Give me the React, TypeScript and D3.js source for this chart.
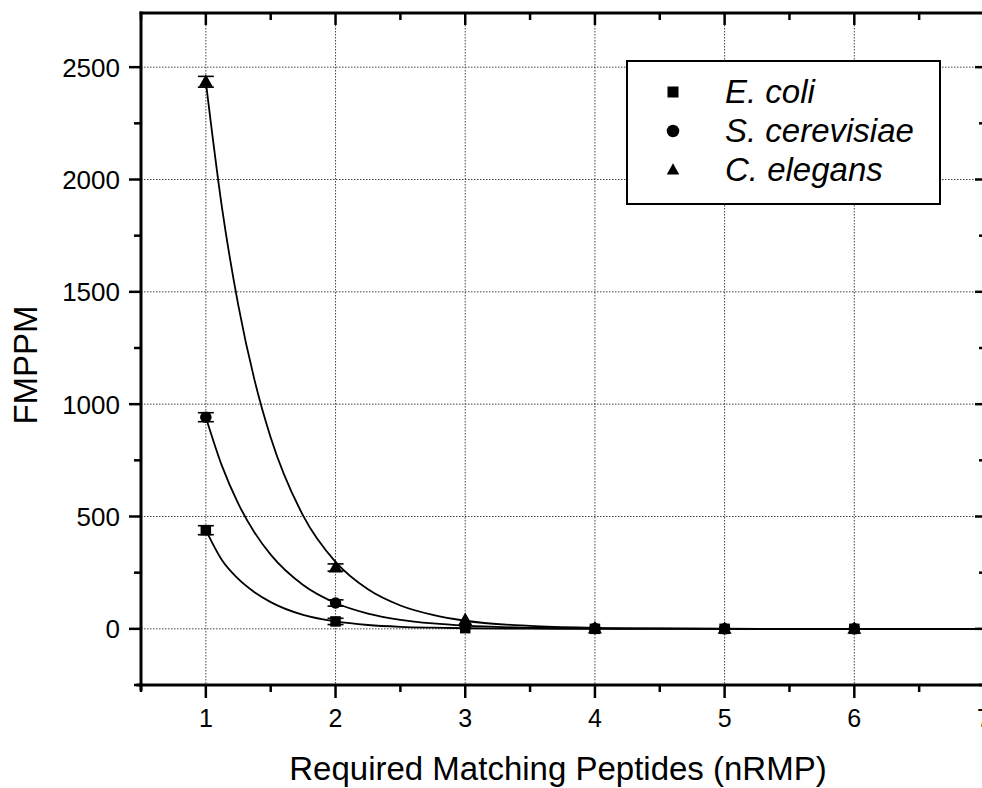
import React from "react";
import * as d3 from "d3";

// ---- data ----
const nRMP = [1, 2, 3, 4, 5, 6];
const ecoli = [439, 33, 3, 0, 0, 0];
const scerevisiae = [942, 115, 12, 1, 0, 0];
const celegans = [2435, 273, 39, 2, 0, 0];
const ecoliErr = [20, 14, 0, 0, 0, 0];
const scerevisiaeErr = [20, 14, 0, 0, 0, 0];
const celegansErr = [24, 16, 0, 0, 0, 0];

// fitted decay curves
const fitX = [1, 1.125, 1.25, 1.375, 1.5, 1.75, 2, 2.25, 2.5, 2.75, 3, 3.5, 4, 4.5, 5, 5.5, 6, 6.5, 7];
const ecoliFit = [439, 305, 222, 163, 119, 62, 33, 17, 9, 5, 2.5, 0.7, 0, 0, 0, 0, 0, 0, 0];
const scerevisiaeFit = [942, 724, 557, 429, 330, 195, 115, 68, 40, 24, 14, 5, 2, 1, 0, 0, 0, 0, 0];
const celegansFit = [2435, 1873, 1441, 1108, 852, 504, 298, 176, 104, 62, 36, 13, 4.5, 1.6, 0.5, 0, 0, 0, 0];

const xMajor = [1, 2, 3, 4, 5, 6, 7];
const xMinor = [0.5, 1.5, 2.5, 3.5, 4.5, 5.5, 6.5];
const yMajor = [0, 500, 1000, 1500, 2000, 2500];
const yMinor = [-250, 250, 750, 1250, 1750, 2250];

const seriesNames = ["E. coli", "S. cerevisiae", "C. elegans"];
const xTitle = "Required Matching Peptides (nRMP)";
const yTitle = "FMPPM";

const W = 982;
const H = 788;
const L = 141;
const R = 984;
const T = 13;
const B = 685;
const FONT = "'Liberation Sans', Arial, Helvetica, sans-serif";

type Shape = "square" | "circle" | "triangle";

function Marker({ shape, cx, cy, s }: { shape: Shape; cx: number; cy: number; s: number }) {
  if (shape === "square")
    return <rect x={cx - s / 2} y={cy - s / 2} width={s} height={s} fill="#000" />;
  if (shape === "circle") return <circle cx={cx} cy={cy} r={s / 2} fill="#000" />;
  const h = s * 0.9;
  return (
    <path
      d={`M${cx},${cy - h * 0.6} L${cx + s / 2},${cy + h * 0.4} L${cx - s / 2},${cy + h * 0.4} Z`}
      fill="#000"
    />
  );
}

export default function App() {
  const x = d3.scaleLinear().domain([0.5, 7]).range([L, R]);
  const y = d3.scaleLinear().domain([-250, 2750]).range([B, T - 2]);

  const line = d3
    .line<[number, number]>()
    .x((d) => x(d[0]))
    .y((d) => y(d[1]))
    .curve(d3.curveMonotoneX);

  const series = [
    { name: seriesNames[0], vals: ecoli, err: ecoliErr, fit: ecoliFit, shape: "square" as Shape, size: 10.5 },
    { name: seriesNames[1], vals: scerevisiae, err: scerevisiaeErr, fit: scerevisiaeFit, shape: "circle" as Shape, size: 11.5 },
    { name: seriesNames[2], vals: celegans, err: celegansErr, fit: celegansFit, shape: "triangle" as Shape, size: 14 },
  ];

  const gridStyle = { stroke: "#444", strokeWidth: 1, strokeDasharray: "1.5,1.5" };

  return (
    <svg
      width={W}
      height={H}
      style={{ position: "absolute", left: 0, top: 0, background: "#fff" }}
      fontFamily={FONT}
    >
      <rect x={0} y={0} width={W} height={H} fill="#fff" />
      {/* grid */}
      {xMajor.map((v) => (
        <line key={"gx" + v} x1={x(v)} x2={x(v)} y1={T} y2={B} {...gridStyle} />
      ))}
      {yMajor.map((v) => (
        <line key={"gy" + v} x1={L} x2={R} y1={y(v)} y2={y(v)} {...gridStyle} />
      ))}

      {/* fitted curves */}
      {series.map((s) => (
        <path
          key={"fit" + s.name}
          d={line(fitX.map((v, i) => [v, s.fit[i]] as [number, number])) || ""}
          fill="none"
          stroke="#000"
          strokeWidth={1.8}
        />
      ))}

      {/* points + error bars */}
      {series.map((s) => (
        <g key={"pts" + s.name}>
          {nRMP.map((v, i) => {
            const cx = x(v);
            const cy = y(s.vals[i]);
            const e = s.err[i];
            return (
              <g key={i}>
                {e > 0 && (
                  <g stroke="#000" strokeWidth={1.6}>
                    <line x1={cx} x2={cx} y1={y(s.vals[i] + e)} y2={y(s.vals[i] - e)} />
                    <line x1={cx - 8} x2={cx + 8} y1={y(s.vals[i] + e)} y2={y(s.vals[i] + e)} />
                    <line x1={cx - 8} x2={cx + 8} y1={y(s.vals[i] - e)} y2={y(s.vals[i] - e)} />
                  </g>
                )}
                <Marker shape={s.shape} cx={cx} cy={cy} s={s.size} />
              </g>
            );
          })}
        </g>
      ))}

      {/* legend */}
      <rect x={627} y={61} width={313} height={143} fill="#fff" stroke="#000" strokeWidth={2} />
      {series.map((s, i) => (
        <g key={"leg" + s.name}>
          <Marker shape={s.shape} cx={673} cy={92 + i * 39} s={s.shape === "square" ? 11 : 12.5} />
          <text x={725} y={103 + i * 39} fontSize={33} fontStyle="italic" fill="#000">
            {s.name}
          </text>
        </g>
      ))}

      {/* axes frame */}
      <g stroke="#000" strokeWidth={3} strokeLinecap="square">
        <line x1={L} x2={R} y1={T} y2={T} />
        <line x1={L - 3} x2={R} y1={B} y2={B} />
        <line x1={L} x2={L} y1={T} y2={B + 4} />
        <line x1={R + 1} x2={R + 1} y1={T} y2={B} />
      </g>

      {/* ticks */}
      <g stroke="#000" strokeWidth={2.5}>
        {xMajor.map((v) => (
          <g key={"xt" + v}>
            <line x1={x(v)} x2={x(v)} y1={B} y2={B + 13} />
            <line x1={x(v)} x2={x(v)} y1={T} y2={T + 12} />
          </g>
        ))}
        {xMinor.map((v) => (
          <g key={"xm" + v}>
            <line x1={x(v)} x2={x(v)} y1={B} y2={B + 7} />
            <line x1={x(v)} x2={x(v)} y1={T} y2={T + 7} />
          </g>
        ))}
        {yMajor.map((v) => (
          <g key={"yt" + v}>
            <line x1={L - 12} x2={L} y1={y(v)} y2={y(v)} />
            <line x1={R - 9} x2={R} y1={y(v)} y2={y(v)} />
          </g>
        ))}
        {yMinor.map((v) => (
          <g key={"ym" + v}>
            <line x1={L - 7} x2={L} y1={y(v)} y2={y(v)} />
            <line x1={R - 5} x2={R} y1={y(v)} y2={y(v)} />
          </g>
        ))}
      </g>

      {/* tick labels */}
      {xMajor.map((v) => (
        <text key={"xl" + v} x={x(v)} y={727} fontSize={25} textAnchor="middle" fill="#000">
          {v}
        </text>
      ))}
      {yMajor.map((v) => (
        <text key={"yl" + v} x={120} y={y(v)} dy="0.36em" fontSize={26} textAnchor="end" fill="#000">
          {v}
        </text>
      ))}

      {/* titles */}
      <text x={558} y={780} fontSize={33} textAnchor="middle" fill="#000">
        {xTitle}
      </text>
      <text
        transform={`translate(37,365) rotate(-90)`}
        fontSize={33}
        textAnchor="middle"
        fill="#000"
      >
        {yTitle}
      </text>
    </svg>
  );
}
